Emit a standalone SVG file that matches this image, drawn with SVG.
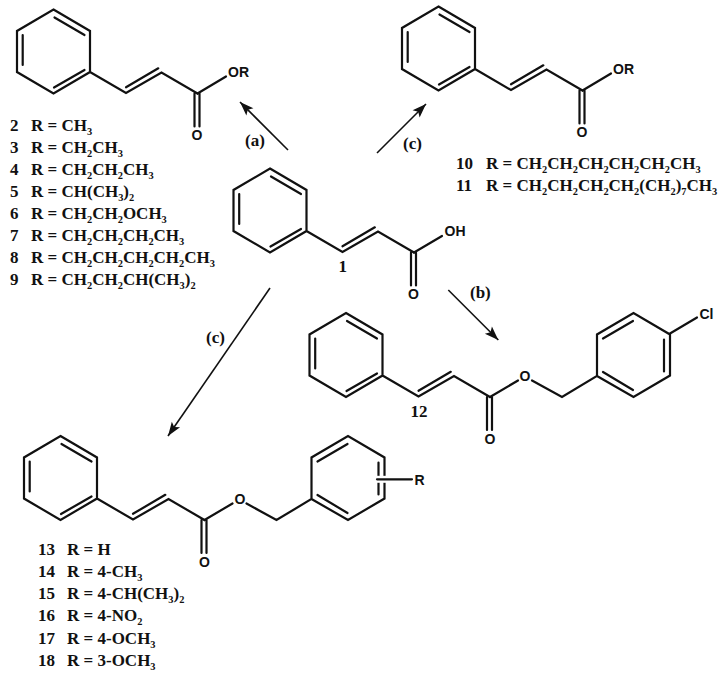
<svg xmlns="http://www.w3.org/2000/svg" xmlns:xlink="http://www.w3.org/1999/xlink" width="725" height="675" viewBox="0 0 725 675">
<style>
.b{fill:none;stroke:#111;stroke-width:2.2;stroke-linecap:round;stroke-linejoin:miter}
.t{font-family:"Liberation Serif","Times New Roman",serif;font-weight:bold;font-size:17px;fill:#111}
.a{font-family:"Liberation Sans",Arial,sans-serif;font-weight:bold;font-size:14px;fill:#111}
.s{font-size:10.400px;baseline-shift:-3.500px}
.m{text-anchor:middle}
.c{fill:none;stroke:#111;stroke-width:1.6}
.h{fill:none;stroke:#fff;stroke-width:7}
</style>
<defs>
<marker id="arr" markerUnits="userSpaceOnUse" viewBox="0 0 16 12" refX="15" refY="6" markerWidth="16" markerHeight="12" orient="auto">
<path d="M15 6L1 1L4 6L1 11Z" fill="#111"/>
</marker>
<g id="cinn">
<path class="b" d="M0 0L36.500 21.500V62.500L0 84L-36.500 62.500V21.500ZM36.500 62.500L72.500 83.500L108 63L144 84M-30.800 25.500V55.500M1 8L31 25.500M0.500 78L31 60.500M72.500 77.800L104.800 58.800M141 84V117M146 84V117"/>
</g>
<g id="benz">
<path class="b" d="M144 84L172 67.500M186 67.500L216 84L251 63V21.500L287.500 0L324 21.500V62.500L287.500 84L251 63M257 25.500L287 8M318 26.500V58.500M257 59L287 77"/>
</g>
</defs>
<g id="connectors">
<line class="c" x1="288" y1="150" x2="240" y2="102" marker-end="url(#arr)"/>
<line class="c" x1="377" y1="153" x2="426" y2="104" marker-end="url(#arr)"/>
<line class="c" x1="448.300" y1="290" x2="498.300" y2="340" marker-end="url(#arr)"/>
<line class="c" x1="270" y1="288" x2="168" y2="436" marker-end="url(#arr)"/>
<text class="t" x="245" y="146">(a)</text>
<text class="t" x="403" y="149">(c)</text>
<text class="t" x="470" y="298">(b)</text>
<text class="t" x="206" y="343">(c)</text>
</g>
<g id="node-1">
<use xlink:href="#cinn" href="#cinn" x="270" y="168.500"/>
<path class="b" d="M414 252.500L442 236"/>
<text class="a" x="444.500" y="236">OH</text>
<text class="a m" x="413.500" y="298.500">O</text>
<text class="t m" x="342.700" y="272">1</text>
</g>
<g id="node-2-9">
<use xlink:href="#cinn" href="#cinn" x="53.500" y="9.500"/>
<path class="b" d="M197.500 93.500L226 76.500"/>
<text class="a" x="228" y="77">OR</text>
<text class="a m" x="197" y="139.500">O</text>
<text class="t" x="10" y="130.500">2</text><text class="t" x="31" y="130.500">R = CH<tspan class="s">3</tspan></text>
<text class="t" x="10" y="152.500">3</text><text class="t" x="31" y="152.500">R = CH<tspan class="s">2</tspan>CH<tspan class="s">3</tspan></text>
<text class="t" x="10" y="174.500">4</text><text class="t" x="31" y="174.500">R = CH<tspan class="s">2</tspan>CH<tspan class="s">2</tspan>CH<tspan class="s">3</tspan></text>
<text class="t" x="10" y="196.500">5</text><text class="t" x="31" y="196.500">R = CH(CH<tspan class="s">3</tspan>)<tspan class="s">2</tspan></text>
<text class="t" x="10" y="218.500">6</text><text class="t" x="31" y="218.500">R = CH<tspan class="s">2</tspan>CH<tspan class="s">2</tspan>OCH<tspan class="s">3</tspan></text>
<text class="t" x="10" y="240.500">7</text><text class="t" x="31" y="240.500">R = CH<tspan class="s">2</tspan>CH<tspan class="s">2</tspan>CH<tspan class="s">2</tspan>CH<tspan class="s">3</tspan></text>
<text class="t" x="10" y="262.500">8</text><text class="t" x="31" y="262.500">R = CH<tspan class="s">2</tspan>CH<tspan class="s">2</tspan>CH<tspan class="s">2</tspan>CH<tspan class="s">2</tspan>CH<tspan class="s">3</tspan></text>
<text class="t" x="10" y="284.500">9</text><text class="t" x="31" y="284.500">R = CH<tspan class="s">2</tspan>CH<tspan class="s">2</tspan>CH(CH<tspan class="s">3</tspan>)<tspan class="s">2</tspan></text>
</g>
<g id="node-10-11">
<use xlink:href="#cinn" href="#cinn" x="438.500" y="6.500"/>
<path class="b" d="M582.500 90.500L611 73.500"/>
<text class="a" x="613" y="74">OR</text>
<text class="a m" x="582" y="136.500">O</text>
<text class="t" x="456" y="168.500">10</text><text class="t" x="486" y="168.500">R = CH<tspan class="s">2</tspan>CH<tspan class="s">2</tspan>CH<tspan class="s">2</tspan>CH<tspan class="s">2</tspan>CH<tspan class="s">2</tspan>CH<tspan class="s">3</tspan></text>
<text class="t" x="456" y="190.500">11</text><text class="t" x="486" y="190.500">R = CH<tspan class="s">2</tspan>CH<tspan class="s">2</tspan>CH<tspan class="s">2</tspan>CH<tspan class="s">2</tspan>(CH<tspan class="s">2</tspan>)<tspan class="s">7</tspan>CH<tspan class="s">3</tspan></text>
</g>
<g id="node-12">
<use xlink:href="#cinn" href="#cinn" x="346" y="313"/>
<use xlink:href="#benz" href="#benz" x="346" y="313"/>
<path class="b" d="M670 333.500L697 317.500"/>
<text class="a m" x="525" y="380.500">O</text>
<text class="a m" x="490" y="443.500">O</text>
<text class="a" x="699.500" y="318.500">Cl</text>
<text class="t m" x="419" y="417">12</text>
</g>
<g id="node-13-18">
<use xlink:href="#cinn" href="#cinn" x="60.500" y="436"/>
<use xlink:href="#benz" href="#benz" x="60.500" y="436"/>
<path class="h" d="M377 479.300H390"/>
<path class="b" d="M377 479.300H412"/>
<text class="a m" x="240" y="504">O</text>
<text class="a m" x="204.500" y="566.500">O</text>
<text class="a" x="414.500" y="484.500">R</text>
<text class="t" x="38" y="554.500">13</text><text class="t" x="67" y="554.500">R = H</text>
<text class="t" x="38" y="576.700">14</text><text class="t" x="67" y="576.700">R = 4-CH<tspan class="s">3</tspan></text>
<text class="t" x="38" y="599">15</text><text class="t" x="67" y="599">R = 4-CH(CH<tspan class="s">3</tspan>)<tspan class="s">2</tspan></text>
<text class="t" x="38" y="621">16</text><text class="t" x="67" y="621">R = 4-NO<tspan class="s">2</tspan></text>
<text class="t" x="38" y="643.500">17</text><text class="t" x="67" y="643.500">R = 4-OCH<tspan class="s">3</tspan></text>
<text class="t" x="38" y="665.700">18</text><text class="t" x="67" y="665.700">R = 3-OCH<tspan class="s">3</tspan></text>
</g>
</svg>
